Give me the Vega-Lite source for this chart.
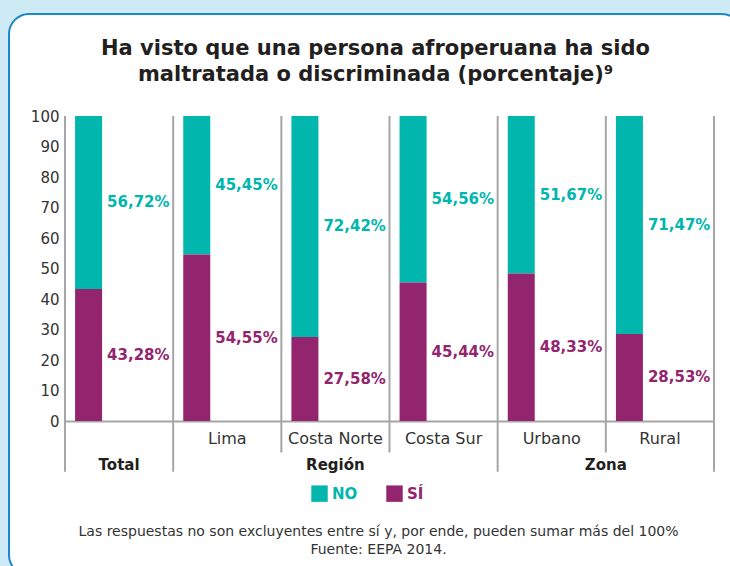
{
  "$schema": "https://vega.github.io/schema/vega-lite/v6.json",
  "width": 733,
  "height": 561,
  "autosize": {"type": "none"},
  "padding": {"left": 9, "top": 14, "right": 0, "bottom": 0},
  "background": "#cdeaf5",
  "config": {
    "view": {"fill": "#ffffff", "stroke": "#1b86cc", "strokeWidth": 2, "cornerRadius": 20},
    "font": "DejaVu Sans",
    "text": {"font": "DejaVu Sans"}
  },
  "title": {
    "text": ["Ha visto que una persona afroperuana ha sido", "maltratada o discriminada (porcentaje)⁹"],
    "font": "DejaVu Sans",
    "fontSize": 21,
    "fontWeight": "bold",
    "color": "#231f20",
    "lineHeight": 26,
    "anchor": "middle",
    "frame": "group",
    "baseline": "top",
    "offset": -71
  },
  "datasets": {
    "respuestas": [
      {"cat": "Total", "resp": "NO", "valor": 56.72},
      {"cat": "Total", "resp": "SÍ", "valor": 43.28},
      {"cat": "Lima", "resp": "NO", "valor": 45.45},
      {"cat": "Lima", "resp": "SÍ", "valor": 54.55},
      {"cat": "Costa Norte", "resp": "NO", "valor": 72.42},
      {"cat": "Costa Norte", "resp": "SÍ", "valor": 27.58},
      {"cat": "Costa Sur", "resp": "NO", "valor": 54.56},
      {"cat": "Costa Sur", "resp": "SÍ", "valor": 45.44},
      {"cat": "Urbano", "resp": "NO", "valor": 51.67},
      {"cat": "Urbano", "resp": "SÍ", "valor": 48.33},
      {"cat": "Rural", "resp": "NO", "valor": 71.47},
      {"cat": "Rural", "resp": "SÍ", "valor": 28.53}
    ],
    "divisores": [
      {"cat": "Total", "tipo": "grupo"},
      {"cat": "Lima", "tipo": "grupo"},
      {"cat": "Costa Norte", "tipo": "sub"},
      {"cat": "Costa Sur", "tipo": "sub"},
      {"cat": "Urbano", "tipo": "grupo"},
      {"cat": "Rural", "tipo": "sub"}
    ],
    "grupos": [
      {"grupo": "Total", "cat": "Total"},
      {"grupo": "Región", "cat": "Costa Norte"},
      {"grupo": "Zona", "cat": "Rural"}
    ]
  },
  "layer": [
    {
      "data": {"name": "respuestas"},
      "transform": [
        {"stack": "valor", "groupby": ["cat"], "sort": [{"field": "resp", "order": "descending"}], "as": ["v0", "v1"]}
      ],
      "mark": {"type": "bar", "width": 27, "xOffset": -30.5},
      "encoding": {
        "x": {
          "field": "cat", "type": "nominal",
          "sort": ["Total", "Lima", "Costa Norte", "Costa Sur", "Urbano", "Rural"],
          "scale": {"domain": ["Total", "Lima", "Costa Norte", "Costa Sur", "Urbano", "Rural"], "range": [56, 705], "paddingInner": 0, "paddingOuter": 0},
          "axis": {
            "orient": "bottom", "offset": -154,
            "domain": true, "domainColor": "#a6a6a6", "domainWidth": 2,
            "ticks": false, "grid": false,
            "labelPadding": 9, "labelFont": "DejaVu Sans", "labelFontSize": 16, "labelColor": "#333333",
            "labelAngle": 0, "labelOverlap": false,
            "labelExpr": "datum.value == 'Total' ? '' : datum.value",
            "title": ["Las respuestas no son excluyentes entre sí y, por ende, pueden sumar más del 100%", "Fuente: EEPA 2014."],
            "titleFont": "DejaVu Sans", "titleFontSize": 14, "titleFontWeight": "normal", "titleColor": "#333333",
            "titleLineHeight": 18, "titleX": 369, "titleY": 103, "titleBaseline": "top", "titleAlign": "center"
          }
        },
        "y": {
          "field": "v0", "type": "quantitative",
          "scale": {"domain": [0, 100], "range": [407, 102], "nice": false},
          "axis": {
            "orient": "left", "offset": -56, "values": [0, 10, 20, 30, 40, 50, 60, 70, 80, 90, 100],
            "domain": false, "ticks": false, "grid": false,
            "labelPadding": 6, "labelFont": "DejaVu Sans", "labelFontSize": 15, "labelColor": "#333333",
            "title": null
          }
        },
        "y2": {"field": "v1"},
        "color": {
          "field": "resp", "type": "nominal",
          "scale": {"domain": ["NO", "SÍ"], "range": ["#00b6ad", "#93256f"]},
          "legend": {
            "orient": "none", "legendX": 302, "legendY": 471, "direction": "horizontal",
            "title": null, "symbolType": "square", "symbolSize": 270, "symbolStrokeWidth": 0,
            "labelFont": "DejaVu Sans", "labelFontSize": 15, "labelFontWeight": "bold",
            "labelOffset": 4, "columnPadding": 28, "padding": 0,
            "encode": {"labels": {"update": {"fill": {"signal": "datum.value === 'NO' ? '#00b6ad' : '#93256f'"}}}}
          }
        }
      }
    },
    {
      "data": {"name": "respuestas"},
      "transform": [
        {"stack": "valor", "groupby": ["cat"], "sort": [{"field": "resp", "order": "descending"}], "as": ["v0", "v1"]},
        {"calculate": "(datum.v0 + datum.v1) / 2", "as": "medio"},
        {"calculate": "replace(format(datum.valor, '.2f'), '.', ',') + '%'", "as": "etiqueta"}
      ],
      "mark": {"type": "text", "align": "left", "baseline": "middle", "dx": -12, "font": "DejaVu Sans", "fontSize": 15, "fontWeight": "bold"},
      "encoding": {
        "x": {"field": "cat", "type": "nominal", "sort": ["Total", "Lima", "Costa Norte", "Costa Sur", "Urbano", "Rural"]},
        "y": {"field": "medio", "type": "quantitative"},
        "text": {"field": "etiqueta"},
        "color": {"field": "resp", "type": "nominal", "legend": null}
      }
    },
    {
      "data": {"name": "divisores"},
      "transform": [{"filter": "datum.tipo == 'grupo'"}],
      "mark": {"type": "rule", "color": "#a6a6a6", "strokeWidth": 2},
      "encoding": {
        "x": {"field": "cat", "type": "nominal", "bandPosition": 0, "sort": ["Total", "Lima", "Costa Norte", "Costa Sur", "Urbano", "Rural"]},
        "y": {"datum": 100, "type": "quantitative"},
        "y2": {"datum": -16.6}
      }
    },
    {
      "data": {"name": "divisores"},
      "transform": [{"filter": "datum.tipo == 'sub'"}],
      "mark": {"type": "rule", "color": "#a6a6a6", "strokeWidth": 2},
      "encoding": {
        "x": {"field": "cat", "type": "nominal", "bandPosition": 0, "sort": ["Total", "Lima", "Costa Norte", "Costa Sur", "Urbano", "Rural"]},
        "y": {"datum": 100, "type": "quantitative"},
        "y2": {"datum": -10.3}
      }
    },
    {
      "data": {"name": "divisores"},
      "transform": [{"filter": "datum.cat == 'Rural'"}],
      "mark": {"type": "rule", "color": "#a6a6a6", "strokeWidth": 2},
      "encoding": {
        "x": {"field": "cat", "type": "nominal", "bandPosition": 1, "sort": ["Total", "Lima", "Costa Norte", "Costa Sur", "Urbano", "Rural"]},
        "y": {"datum": 100, "type": "quantitative"},
        "y2": {"datum": -16.6}
      }
    },
    {
      "data": {"name": "grupos"},
      "transform": [{"filter": "datum.grupo != 'Zona'"}],
      "mark": {"type": "text", "align": "center", "baseline": "middle", "font": "DejaVu Sans", "fontSize": 15, "fontWeight": "bold", "color": "#231f20"},
      "encoding": {
        "x": {"field": "cat", "type": "nominal", "bandPosition": 0.5, "sort": ["Total", "Lima", "Costa Norte", "Costa Sur", "Urbano", "Rural"]},
        "y": {"datum": -14.4, "type": "quantitative"},
        "text": {"field": "grupo"}
      }
    },
    {
      "data": {"name": "grupos"},
      "transform": [{"filter": "datum.grupo == 'Zona'"}],
      "mark": {"type": "text", "align": "center", "baseline": "middle", "font": "DejaVu Sans", "fontSize": 15, "fontWeight": "bold", "color": "#231f20"},
      "encoding": {
        "x": {"field": "cat", "type": "nominal", "bandPosition": 0, "sort": ["Total", "Lima", "Costa Norte", "Costa Sur", "Urbano", "Rural"]},
        "y": {"datum": -14.4, "type": "quantitative"},
        "text": {"field": "grupo"}
      }
    }
  ]
}
